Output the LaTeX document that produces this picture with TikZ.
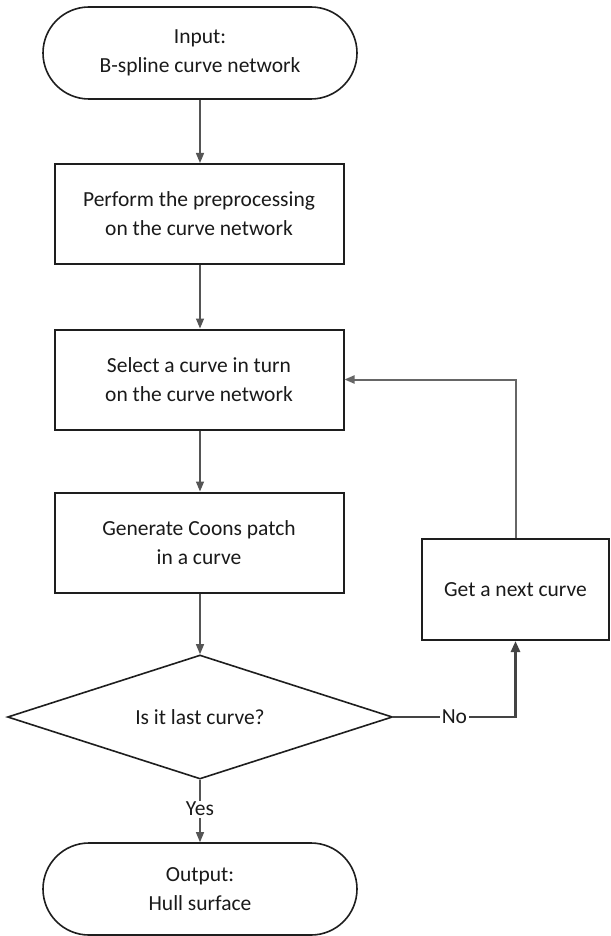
\documentclass[tikz,border=0pt]{standalone}
\usepackage{fontspec}
\setmainfont{Carlito}
\usetikzlibrary{arrows.meta,shapes.geometric}
\definecolor{edge}{HTML}{1E1E1E}
\definecolor{wire}{HTML}{555555}
\definecolor{ink}{HTML}{1A1A1A}
\begin{document}
\begin{tikzpicture}[x=1pt,y=-1pt,
  txt/.style={font=\fontsize{21.5}{29}\selectfont, text=ink, align=center},
  terminal/.style={txt, draw=edge, line width=1.6pt, rounded corners=46pt,
    minimum width=314pt, minimum height=92pt, inner sep=0pt},
  process/.style={txt, draw=edge, line width=2pt,
    minimum width=289pt, minimum height=100pt, inner sep=0pt},
  decision/.style={txt, draw=edge, line width=1.6pt, diamond, shape aspect=3.1,
    inner sep=0pt, minimum width=385pt, minimum height=124pt},
  flow/.style={draw=wire, line width=1.3pt, -{Triangle[length=10pt,width=8pt]}},
  lbl/.style={font=\fontsize{21.5}{24}\selectfont, text=ink, fill=white, inner sep=1.5pt}
]
\useasboundingbox (0,0) rectangle (610,936);
\fill[white] (0,0) rectangle (610,936);

% main column
\node[terminal] (start) at (200,53) {Input:\\B-spline curve network};
\node[process] (prep) at (199,214) {Perform the preprocessing\\on the curve network};
\node[process] (select) at (199,379.5) {Select a curve in turn\\on the curve network};
\node[process] (coons) at (199,542.5) {Generate Coons patch\\in a curve};
\node[decision] (last) at (200,717) {Is it last curve?};
\node[terminal] (out) at (200,889) {Output:\\Hull surface};

% loop-back box
\node[process, minimum width=187pt, minimum height=101pt] (next) at (515.5,589.5) {Get a next curve};

% connectors
\draw[flow] (start.south) -- (prep.north -| start.south);
\draw[flow] (prep.south -| start.south) -- (select.north -| start.south);
\draw[flow] (select.south -| start.south) -- (coons.north -| start.south);
\draw[flow] (coons.south -| start.south) -- (last.north);
\draw[flow] (last.south) -- node[lbl, pos=0.47] {Yes} (out.north);
\draw[draw=wire!80!black, line width=2.6pt, -{Triangle[length=11pt,width=9pt]}]
  (last.east) -| node[lbl, pos=0.25] {No} (next.south);
\draw[draw=wire!90, line width=2pt, -{Triangle[length=10pt,width=8pt]}]
  (next.north) |- (select.east);
\end{tikzpicture}
\end{document}
